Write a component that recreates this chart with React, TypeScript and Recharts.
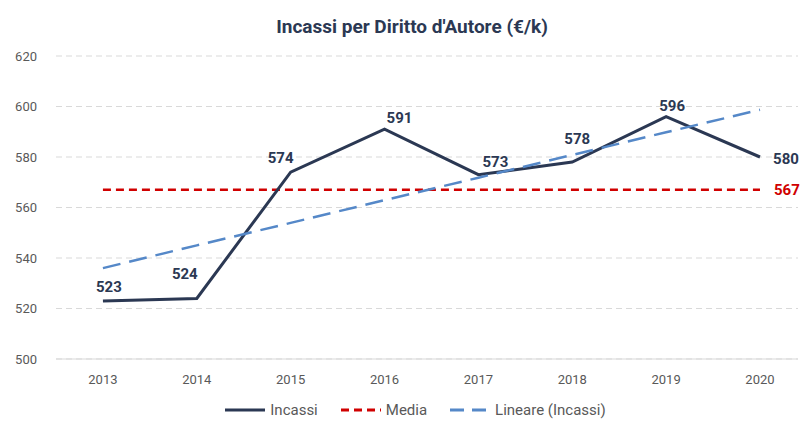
import { LineChart, Line, XAxis, YAxis, CartesianGrid, LabelList } from "recharts";

const years = [2013, 2014, 2015, 2016, 2017, 2018, 2019, 2020];
const incassi = [523, 524, 574, 591, 573, 578, 596, 580];
const media = [567, 567, 567, 567, 567, 567, 567, 567];
const lineare = [536.0, 545.0, 553.9, 562.9, 571.8, 580.8, 589.8, 598.7];
const yTicks = [500, 520, 540, 560, 580, 600, 620];

// spostamento manuale delle etichette [dx, dy] come nel grafico originale
const labelShift = [
  [6, -14],
  [-12, -25],
  [-10, -14],
  [15, -11],
  [17, -13],
  [5, -23],
  [6, -11],
  [26, 2],
];

const data = years.map((anno, i) => ({
  anno,
  incassi: incassi[i],
  media: media[i],
  lineare: lineare[i],
}));

const NAVY = "#2B3853";
const RED = "#D00000";
const BLUE = "#5588C8";
const GREY = "#595959";
const FONT = "Roboto, 'DejaVu Sans', sans-serif";

const IncassiLabel = (props: any) => {
  const { x, y, value, index } = props;
  const [dx, dy] = labelShift[index] || [0, -12];
  return (
    <text
      x={x + dx}
      y={y + dy}
      dy="0.35em"
      textAnchor="middle"
      fill={NAVY}
      fontSize={15}
      fontWeight={700}
      fontFamily={FONT}
    >
      {value}
    </text>
  );
};

const MediaLabel = (props: any) => {
  const { x, y, value, index } = props;
  if (index !== media.length - 1) return null;
  return (
    <text x={x + 14} y={y} dy="0.35em" fill={RED} fontSize={15} fontWeight={700} fontFamily={FONT}>
      {value}
    </text>
  );
};

const LegendItem = ({ label, stroke, dash }: { label: string; stroke: string; dash?: string }) => (
  <span style={{ display: "inline-flex", alignItems: "center" }}>
    <svg width={42} height={6} style={{ marginRight: 4 }}>
      <line x1={1} y1={3} x2={41} y2={3} stroke={stroke} strokeWidth={3} strokeDasharray={dash} />
    </svg>
    {label}
  </span>
);

export default function App() {
  return (
    <div style={{ position: "fixed", left: 0, top: 0, width: 801, height: 423, background: "#fff" }}>
      <div
        style={{
          position: "absolute",
          left: 0,
          top: 15,
          width: 824,
          textAlign: "center",
          fontFamily: FONT,
          fontWeight: 700,
          fontSize: 19,
          color: NAVY,
        }}
      >
        Incassi per Diritto d'Autore (€/k)
      </div>
      <LineChart width={801} height={423} data={data} margin={{ top: 56, right: 3, left: 0, bottom: 34 }}>
        <CartesianGrid vertical={false} stroke="#D9D9D9" strokeDasharray="6 4" />
        <XAxis
          dataKey="anno"
          type="number"
          domain={[2012.5, 2020.405]}
          ticks={years}
          allowDataOverflow
          height={30}
          tickSize={0}
          tickMargin={16}
          axisLine={{ stroke: "#D9D9D9" }}
          tick={{ fill: GREY, fontSize: 13, fontFamily: FONT }}
        />
        <YAxis
          domain={[500, 620]}
          ticks={yTicks}
          width={56}
          tickSize={0}
          tickMargin={19}
          axisLine={false}
          tick={{ fill: GREY, fontSize: 13, fontFamily: FONT }}
        />
        <Line
          dataKey="media"
          stroke={RED}
          strokeWidth={2.5}
          strokeDasharray="8 5"
          dot={false}
          isAnimationActive={false}
        >
          <LabelList dataKey="media" content={MediaLabel} />
        </Line>
        <Line
          dataKey="incassi"
          stroke={NAVY}
          strokeWidth={3}
          dot={false}
          isAnimationActive={false}
        >
          <LabelList dataKey="incassi" content={IncassiLabel} />
        </Line>
        <Line
          dataKey="lineare"
          stroke={BLUE}
          strokeWidth={2.5}
          strokeDasharray="18 9"
          dot={false}
          isAnimationActive={false}
        />
      </LineChart>
      <div
        style={{
          position: "absolute",
          left: 0,
          top: 401,
          width: 830,
          display: "flex",
          justifyContent: "center",
          gap: 22,
          fontFamily: FONT,
          fontSize: 15,
          color: GREY,
        }}
      >
        <LegendItem label="Incassi" stroke={NAVY} />
        <LegendItem label="Media" stroke={RED} dash="8 5" />
        <LegendItem label="Lineare (Incassi)" stroke={BLUE} dash="14 8" />
      </div>
    </div>
  );
}
